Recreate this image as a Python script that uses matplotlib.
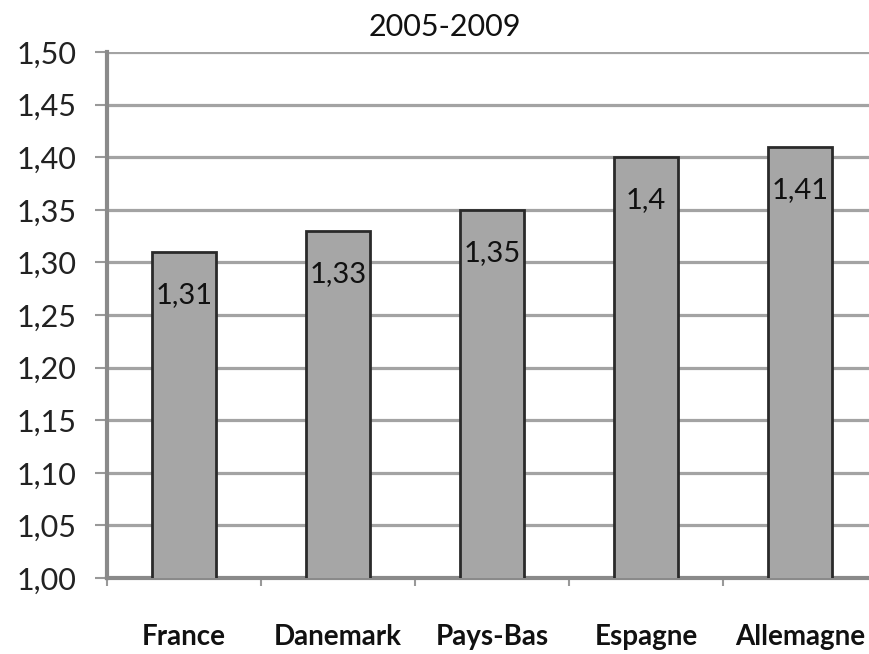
import matplotlib
matplotlib.use("Agg")
import matplotlib.pyplot as plt
import numpy as np

title = "2005-2009"
categories = ["France", "Danemark", "Pays-Bas", "Espagne", "Allemagne"]
values = [1.31, 1.33, 1.35, 1.40, 1.41]
y_ticks = [1.00, 1.05, 1.10, 1.15, 1.20, 1.25, 1.30, 1.35, 1.40, 1.45, 1.50]

plt.rcParams['font.family'] = ['Lato', 'DejaVu Sans']

fig = plt.figure(figsize=(8.69, 6.54), dpi=100)
ax = fig.add_axes([107/869, 76/654, 770/869, 526/654])

x = np.arange(len(categories))
bars = ax.bar(x, values, width=0.41, color="#a6a6a6", edgecolor="#2a2a2a",
              linewidth=2, zorder=3)

def fmt(v):
    s = ("%.2f" % v).rstrip("0").rstrip(".")
    return s.replace(".", ",")

for xi, v in zip(x, values):
    ax.annotate(fmt(v), xy=(xi, v), xytext=(0, -31), textcoords="offset points",
                ha="center", va="center", fontsize=21, color="#111111", zorder=4)

ax.set_ylim(1.00, 1.50)
ax.set_xlim(-0.5, len(categories) - 0.5)
ax.set_yticks(y_ticks)
ax.set_yticklabels([("%.2f" % t).replace(".", ",") for t in y_ticks],
                   fontsize=22, color="#222222")
ax.yaxis.grid(True, color="#a3a3a3", linewidth=2.3, zorder=0)
ax.set_axisbelow(True)

ax.set_xticks(x)
ax.set_xticklabels(categories, fontsize=20, fontweight="bold", color="#111111")
ax.tick_params(axis="x", which="major", length=0, pad=33)
ax.set_xticks(np.arange(len(categories)) - 0.5, minor=True)
ax.tick_params(axis="x", which="minor", length=6, width=1.5, color="#999999",
               direction="out")
ax.tick_params(axis="y", length=9, width=1.5, color="#999999", pad=13)

for s in ["top", "right"]:
    ax.spines[s].set_visible(False)
for s in ["left", "bottom"]:
    ax.spines[s].set_color("#8a8a8a")
    ax.spines[s].set_linewidth(3)

fig.text(445/869, 1 - 27/654, title, ha="center", va="center", fontsize=22,
         color="#111111")

fig.savefig("out.png", dpi=100)
